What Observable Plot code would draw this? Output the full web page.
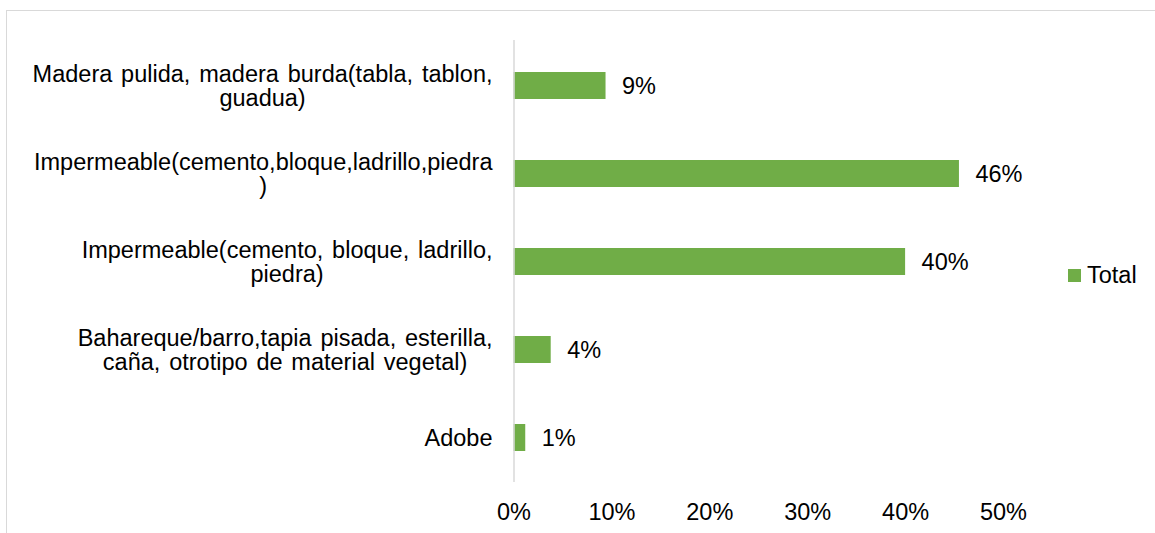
<!DOCTYPE html>
<html>
<head>
<meta charset="utf-8">
<script src="https://cdn.jsdelivr.net/npm/d3@7"></script>
<script src="https://cdn.jsdelivr.net/npm/@observablehq/plot@0.6"></script>
<style>
  html, body { margin: 0; padding: 0; background: #fff; }
  body { width: 1155px; height: 533px; overflow: hidden; position: relative; font-family: "Liberation Sans", Arial, sans-serif; }
  #frame { position: absolute; left: 6px; top: 10px; width: 1200px; height: 600px; border: 1.5px solid #d9d9d9; box-sizing: border-box; }
  #chart { position: absolute; left: 0; top: 0; }
  #legend { position: absolute; left: 1068px; top: 262px; height: 26px; display: flex; align-items: center; font-size: 23.5px; color: #000; }
  #legend .sw { width: 13px; height: 13px; background: #70AD47; margin-right: 6px; }
</style>
</head>
<body>
<div id="frame"></div>
<div id="chart"></div>
<div id="legend"><span class="sw"></span><span>Total</span></div>
<script>
const categories = [
  "Madera pulida, madera burda(tabla, tablon,\nguadua)",
  "Impermeable(cemento,bloque,ladrillo,piedra\n)",
  "Impermeable(cemento, bloque, ladrillo,\npiedra)",
  "Bahareque/barro,tapia pisada, esterilla,\ncaña, otrotipo de material vegetal)",
  "Adobe"
];
const values = [0.094, 0.455, 0.400, 0.038, 0.012];
const xTicks = [0, 0.1, 0.2, 0.3, 0.4, 0.5];
const seriesName = "Total";

const data = categories.map((c, i) => ({cat: c, value: values[i]}));

const WORD_SPACING = "2.3px";
const ctx = document.createElement("canvas").getContext("2d");
ctx.font = '23.5px "Liberation Sans"';
try { ctx.wordSpacing = WORD_SPACING; } catch (e) {}
const maxLineWidth = s => Math.max(...s.split("\n").map(l => ctx.measureText(l).width));

const green = "#70AD47";
const fmt = d3.format(".0%");

const labelMarks = data.map(d => Plot.text([d], {
  y: "cat",
  frameAnchor: "left",
  text: "cat",
  textAnchor: "middle",
  lineHeight: 1.03,
  dx: -(21.5 + maxLineWidth(d.cat) / 2),
  fill: "#000"
}));

const chart = Plot.plot({
  width: 1155,
  height: 533,
  marginLeft: 513.5,
  marginRight: 152,
  marginTop: 40,
  marginBottom: 51,
  style: {fontFamily: '"Liberation Sans", Arial, sans-serif', fontSize: "23.5px", wordSpacing: WORD_SPACING, color: "#000", background: "transparent"},
  x: {domain: [0, 0.5], axis: null},
  y: {domain: categories, axis: null, paddingInner: 0.695, paddingOuter: 0.3475},
  marks: [
    Plot.barX(data, {x: "value", y: "cat", fill: green}),
    Plot.ruleX([0], {stroke: "#d9d9d9", strokeWidth: 1.5}),
    Plot.text(data, {x: "value", y: "cat", text: d => fmt(d.value), textAnchor: "start", dx: 16, fill: "#000"}),
    ...labelMarks,
    Plot.axisX({ticks: xTicks, tickFormat: fmt, tickSize: 0, tickPadding: 20.5, fill: "#000", fontSize: 23.5, label: null})
  ]
});
document.getElementById("chart").appendChild(chart);
</script>
</body>
</html>
